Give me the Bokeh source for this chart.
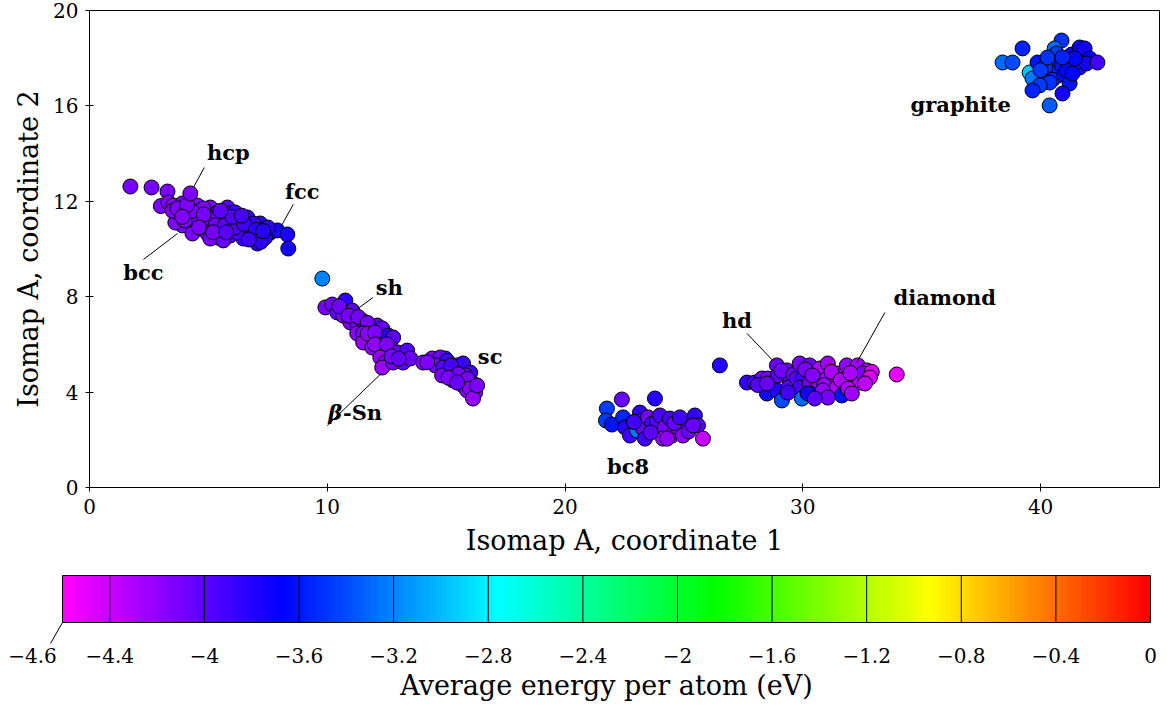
import colorsys

import numpy as np
from bokeh.core.properties import value
from bokeh.embed import file_html
from bokeh.layouts import column, row
from bokeh.models import ColumnDataSource, FixedTicker, LinearColorMapper, Range1d
from bokeh.plotting import figure
from bokeh.resources import INLINE

# ---- structures in Isomap A space: (coordinate 1, coordinate 2, energy in eV/atom) ----
# bcc / hcp / fcc
close_x = [1.72, 2.61, 3.28, 3.0, 3.32, 3.53, 3.91, 4.54, 5.08, 5.80, 5.90, 6.13, 6.64, 7.18,
           7.61, 7.90, 8.32, 8.36, 7.39, 7.06, 6.47, 5.92, 5.38, 4.96, 4.37, 3.91, 3.61,
           4.24, 4.66, 5.21, 5.63, 6.05, 6.64, 6.89, 4.79, 4.12, 5.38, 5.92, 4.96, 6.22,
           4.33, 5.08, 5.63, 4.54, 5.00, 5.50, 6.30, 4.00, 3.50, 6.80, 7.50, 7.20,
           3.70, 4.30, 4.80, 5.30, 5.70, 6.10, 6.50, 4.60, 5.20, 5.75, 6.00, 6.40, 7.00,
           4.10, 5.50, 3.90, 6.70, 7.30, 4.24]
close_y = [12.62, 12.58, 12.41, 11.80, 11.95, 11.82, 11.91, 11.82, 11.74, 11.74, 11.50, 11.53, 11.32, 11.07,
           10.69, 10.78, 10.61, 10.02, 10.48, 10.23, 10.44, 10.57, 10.48, 10.65, 10.78, 10.99, 11.11,
           11.19, 11.32, 11.19, 11.32, 11.07, 10.86, 11.07, 11.70, 11.49, 11.53, 11.11, 10.99, 10.69,
           10.65, 10.44, 10.36, 11.11, 11.30, 10.80, 11.20, 11.20, 11.60, 10.60, 10.90, 10.30,
           11.70, 11.60, 11.45, 11.00, 11.00, 10.90, 11.05, 10.90, 10.70, 10.70, 11.35, 11.40, 10.80,
           11.85, 11.60, 11.35, 10.40, 10.75, 12.33]
close_e = [-4.10, -4.10, -4.12, -4.13, -4.12, -4.14, -4.11, -4.12, -4.10, -3.98, -3.96, -3.90, -3.86, -3.84,
           -3.80, -3.76, -3.76, -3.74, -3.82, -3.84, -3.92, -4.00, -4.08, -4.12, -4.13, -4.14, -4.13,
           -4.11, -4.10, -4.08, -4.02, -3.96, -3.90, -3.88, -4.12, -4.14, -4.06, -3.98, -4.10, -3.95,
           -4.12, -4.10, -4.05, -4.12, -4.08, -4.04, -3.94, -4.13, -4.14, -3.88, -3.82, -3.84,
           -4.13, -4.12, -4.11, -4.07, -4.02, -3.95, -3.90, -4.12, -4.10, -4.00, -3.97, -3.92, -3.86,
           -4.13, -4.02, -4.14, -3.90, -3.82, -4.13]

# sh / beta-Sn / sc
tin_x = [9.79, 9.92, 10.21, 10.76, 10.42, 10.67, 11.05, 10.97, 11.26, 11.47, 11.72, 12.10, 12.31,
         10.50, 10.90, 11.30, 11.70,
         11.26, 11.51, 11.89, 12.23, 12.56, 12.77, 11.51, 11.89, 12.31, 12.65, 12.98, 13.36,
         11.70, 12.00, 12.00, 12.50,
         12.23, 12.44, 12.31, 12.77, 13.19, 13.49, 14.03, 14.41, 14.96, 14.75, 15.04, 14.54,
         12.70, 13.00, 14.20,
         14.87, 15.17, 15.46, 15.71, 16.01, 15.80, 14.83, 15.29, 15.71, 16.09, 15.88, 16.22,
         15.20, 15.50, 15.90, 15.10, 16.00,
         16.13, 15.46, 16.30]
tin_y = [8.76, 7.55, 7.67, 7.84, 7.34, 7.21, 7.42, 6.92, 6.88, 7.00, 6.71, 6.79, 6.67,
         7.60, 7.20, 7.15, 6.90,
         6.46, 6.46, 6.29, 6.16, 6.37, 6.29, 6.08, 5.87, 5.74, 5.87, 5.66, 5.74,
         6.45, 6.50, 6.00, 6.00,
         5.45, 5.24, 5.03, 5.24, 5.24, 5.41, 5.24, 5.41, 5.41, 5.45, 5.32, 5.12,
         5.50, 5.40, 5.25,
         5.03, 4.82, 5.12, 5.20, 4.82, 4.70, 4.70, 4.49, 4.28, 4.40, 4.07, 3.98,
         5.10, 4.75, 4.55, 4.60, 4.15,
         3.73, 4.40, 4.28]
tin_e = [-3.20, -4.10, -4.08, -3.85, -4.05, -4.10, -4.00, -4.12, -4.08, -4.15, -4.12, -4.02, -4.05,
         -4.07, -4.10, -4.08, -4.10,
         -4.18, -4.15, -4.20, -4.15, -3.82, -4.00, -4.22, -4.22, -4.18, -4.10, -4.05, -3.98,
         -4.18, -4.12, -4.20, -4.12,
         -4.22, -4.20, -4.24, -4.10, -4.02, -4.05, -4.18, -4.15, -3.30, -4.05, -3.90, -4.10,
         -4.10, -4.05, -4.15,
         -4.00, -4.08, -3.95, -3.88, -3.90, -4.05, -4.12, -4.15, -4.10, -4.12, -4.18, -4.15,
         -3.95, -4.08, -4.10, -4.12, -4.16,
         -4.22, -4.05, -4.12]

# bc8
bc8_x = [23.78, 22.39, 21.76, 21.72, 21.97, 22.44, 22.52, 22.73, 23.03, 23.15, 23.24, 23.28,
         23.49, 23.66, 23.36, 23.87, 23.99, 24.20, 24.41, 24.50, 24.12, 24.75, 24.96, 25.13,
         22.90, 24.60, 23.60, 25.20,
         25.46, 25.59, 25.80, 24.29, 24.83, 25.38]
bc8_y = [3.73, 3.69, 3.31, 2.81, 2.64, 2.94, 2.52, 2.18, 2.39, 3.14, 2.81, 2.47,
         2.94, 2.68, 2.05, 2.81, 3.02, 2.52, 2.89, 2.18, 2.05, 2.52, 2.18, 2.68,
         2.75, 2.70, 2.30, 2.35,
         3.02, 2.60, 2.05, 2.05, 2.94, 2.60]
bc8_e = [-3.80, -4.05, -3.45, -3.45, -3.60, -3.55, -3.80, -3.90, -3.25, -3.85, -4.00, -4.05,
         -4.10, -3.90, -3.90, -4.00, -3.95, -4.10, -3.95, -4.20, -4.25, -4.15, -4.20, -3.95,
         -3.90, -4.05, -4.00, -4.05,
         -3.85, -4.00, -4.38, -4.20, -3.90, -4.05]

# hd / diamond
dia_x = [26.51, 27.65, 27.98, 28.28, 28.91, 28.53, 28.49, 28.91, 29.12, 29.33, 28.95, 29.45,
         28.10, 29.10, 29.60, 29.40,
         29.87, 30.29, 29.75, 30.00, 29.87, 30.29, 29.96, 30.50, 30.71, 31.05, 30.59, 31.01,
         30.10, 30.40, 30.20, 30.90,
         31.43, 31.85, 32.31, 32.69, 31.43, 31.68, 32.06, 32.39, 32.52, 30.84, 31.64, 31.05,
         31.20, 31.60, 32.00, 31.90, 32.90,
         32.06, 32.82, 32.61, 33.95, 28.49, 29.37, 30.50]
dia_y = [5.12, 4.40, 4.40, 4.57, 5.12, 4.57, 3.94, 4.07, 3.65, 4.91, 4.70, 4.40,
         4.30, 4.90, 4.75, 4.20,
         5.20, 5.12, 4.57, 4.61, 4.19, 4.36, 3.73, 3.98, 4.99, 5.20, 4.49, 4.57,
         4.95, 4.70, 3.95, 4.30,
         4.78, 5.12, 5.12, 4.91, 4.19, 4.49, 4.36, 4.40, 4.78, 4.07, 3.86, 3.77,
         4.85, 4.50, 4.80, 4.15, 4.85,
         3.94, 4.61, 4.36, 4.74, 4.36, 3.98, 3.73]
dia_e = [-3.80, -3.85, -3.95, -4.10, -4.05, -4.10, -3.75, -3.80, -3.40, -4.10, -4.00, -4.05,
         -4.00, -4.08, -4.05, -3.98,
         -4.10, -4.05, -4.00, -3.90, -3.95, -4.10, -3.30, -3.80, -4.30, -4.25, -4.20, -4.25,
         -4.10, -4.15, -3.75, -4.22,
         -4.30, -4.20, -4.25, -4.30, -4.30, -4.25, -4.35, -4.30, -4.15, -4.20, -3.60, -4.10,
         -4.28, -4.30, -4.28, -4.30, -4.45,
         -4.25, -4.45, -4.35, -4.50, -4.05, -3.90, -4.00]

# graphite
gra_x = [40.88, 39.24, 38.40, 38.82, 39.54, 39.66, 39.87, 40.46, 40.17, 40.59, 40.67, 40.71,
         40.60, 40.90, 41.30, 40.20, 40.50, 41.00, 41.70, 40.00,
         41.13, 41.09, 40.38, 39.96, 39.66, 41.22, 40.92, 40.38, 41.64, 41.85, 41.64, 42.06,
         41.93, 42.39, 41.43, 40.92, 40.29, 41.34]
gra_y = [18.74, 18.41, 17.82, 17.82, 17.40, 17.15, 17.82, 17.78, 17.36, 18.41, 18.20, 17.27,
         17.60, 17.70, 18.15, 17.65, 17.10, 17.30, 17.95, 17.50,
         17.90, 17.48, 16.98, 16.86, 16.65, 16.94, 16.52, 16.02, 18.45, 18.41, 17.61, 17.99,
         17.78, 17.82, 17.99, 18.03, 18.03, 17.36]
gra_e = [-3.50, -3.55, -3.30, -3.40, -2.95, -3.25, -3.60, -3.55, -3.50, -3.30, -3.45, -3.60,
         -3.55, -3.60, -3.70, -3.50, -3.55, -3.62, -3.72, -3.45,
         -3.70, -3.65, -3.50, -3.45, -3.55, -3.60, -3.75, -3.35, -3.70, -3.75, -3.80, -3.70,
         -3.75, -3.90, -3.65, -3.55, -3.50, -3.65]

# structure names with their leader lines
label_text = ["hcp", "bcc", "fcc", "sh", "sc", "bc8", "hd", "diamond", "graphite"]
label_x = [5.84, 2.27, 8.95, 12.61, 16.85, 22.65, 27.23, 35.97, 36.64]
label_y = [14.05, 9.01, 12.41, 8.39, 5.49, 0.88, 7.00, 7.97, 16.06]
tin_label_x = [10.04, 10.66]
tin_label_y = [3.14, 3.14]
lead_x0 = [4.83, 2.27, 8.57, 11.93, 10.00, 27.65, 33.45]
lead_y0 = [13.42, 9.56, 11.87, 7.97, 2.60, 6.46, 7.34]
lead_x1 = [4.37, 3.70, 8.03, 11.30, 12.31, 28.74, 32.27]
lead_y1 = [12.58, 10.65, 10.90, 7.51, 4.82, 5.32, 5.24]

# colour bar
e_low, e_high = -4.6, 0.0
cbar_ticks = [-4.6, -4.4, -4.0, -3.6, -3.2, -2.8, -2.4, -2.0, -1.6, -1.2, -0.8, -0.4, 0.0]
cbar_labels = ["−4.6", "−4.4", "−4", "−3.6", "−3.2", "−2.8", "−2.4", "−2", "−1.6",
               "−1.2", "−0.8", "−0.4", "0"]
x_ticks = [0, 10, 20, 30, 40]
y_ticks = [0, 4, 8, 12, 16, 20]

SERIF = "DejaVu Serif"

# hue runs from magenta (low energy) down to red (zero)
palette = []
for i in range(256):
    h = (300.0 * (1 - i / 255.0)) / 360.0
    r, g, b = colorsys.hsv_to_rgb(h, 1.0, 1.0)
    palette.append("#%02x%02x%02x" % (int(round(r * 255)), int(round(g * 255)), int(round(b * 255))))
mapper = LinearColorMapper(palette=palette, low=e_low, high=e_high)

# ---------------- scatter panel ----------------
p = figure(frame_width=1070, frame_height=477, x_range=(0, 45), y_range=(0, 20),
           output_backend="svg", toolbar_location=None,
           min_border_left=89, min_border_right=7, min_border_top=10, min_border_bottom=73)
p.grid.visible = False
p.outline_line_color = "black"
p.outline_line_width = 1
p.background_fill_color = "white"

for ax in (p.xaxis[0], p.yaxis[0]):
    ax.major_tick_in = 4
    ax.major_tick_out = 4
    ax.minor_tick_line_color = None
    ax.axis_line_color = "black"
    ax.major_tick_line_color = "black"
    ax.major_label_text_font = SERIF
    ax.major_label_text_font_size = "20px"
    ax.major_label_text_color = "black"
    ax.axis_label_text_font = SERIF
    ax.axis_label_text_font_size = "27px"
    ax.axis_label_text_font_style = "normal"
    ax.axis_label_text_color = "black"
p.xaxis.ticker = FixedTicker(ticks=x_ticks)
p.yaxis.ticker = FixedTicker(ticks=y_ticks)
p.xaxis.axis_label = "Isomap A, coordinate 1"
p.yaxis.axis_label = "Isomap A, coordinate 2"
p.xaxis.major_label_standoff = 7
p.yaxis.major_label_standoff = 7
p.xaxis.axis_label_standoff = 8
p.yaxis.axis_label_standoff = 6

for xs, ys, es in [(close_x, close_y, close_e), (tin_x, tin_y, tin_e), (bc8_x, bc8_y, bc8_e),
                   (dia_x, dia_y, dia_e), (gra_x, gra_y, gra_e)]:
    src = ColumnDataSource(dict(x=xs, y=ys, e=es))
    p.scatter("x", "y", source=src, size=15, fill_color={"field": "e", "transform": mapper},
              line_color="black", line_width=1, fill_alpha=1)

p.segment(x0=lead_x0, y0=lead_y0, x1=lead_x1, y1=lead_y1, line_color="black", line_width=1)
p.text(x=label_x, y=label_y, text=label_text, text_align="center", text_baseline="middle",
       text_font=value(SERIF), text_font_style="bold", text_font_size="21px", text_color="black")
# beta-Sn: italic bold beta followed by "-Sn"
p.text(x=tin_label_x[:1], y=tin_label_y[:1], text=["β"], text_align="left",
       text_baseline="middle", text_font=value(SERIF), text_font_style="bold italic",
       text_font_size="21px", text_color="black")
p.text(x=tin_label_x[1:], y=tin_label_y[1:], text=["-Sn"], text_align="left",
       text_baseline="middle", text_font=value(SERIF), text_font_style="bold",
       text_font_size="21px", text_color="black")

# ---------------- colour bar panel ----------------
px_per_unit = 1088.0 / (e_high - e_low)
cb = figure(width=1166, height=148, output_backend="svg", toolbar_location=None,
            x_range=Range1d(e_low - 62 / px_per_unit, e_high + 16 / px_per_unit),
            y_range=Range1d(0, 148), x_axis_type=None, y_axis_type=None,
            min_border=0, min_border_left=0, min_border_right=0,
            min_border_top=0, min_border_bottom=0, outline_line_color=None)
cb.grid.visible = False

bar_bottom, bar_top = 86, 133
grad = np.linspace(e_low, e_high, 1100).reshape(1, -1)
cb.image(image=[grad], x=e_low, y=bar_bottom, dw=e_high - e_low, dh=bar_top - bar_bottom,
         color_mapper=mapper)
inner = cbar_ticks[1:-1]
cb.segment(x0=inner, y0=[bar_bottom] * len(inner), x1=inner, y1=[bar_top] * len(inner),
           line_color="black", line_width=1)
cb.quad(left=[e_low], right=[e_high], bottom=[bar_bottom], top=[bar_top],
        fill_color=None, line_color="black", line_width=1)

lab_x = list(cbar_ticks)
lab_x[0] = e_low - 30 / px_per_unit
cb.text(x=lab_x, y=[53] * len(lab_x), text=cbar_labels, text_align="center",
        text_baseline="middle", text_font=value(SERIF), text_font_size="20px", text_color="black")
cb.segment(x0=[e_low], y0=[bar_bottom], x1=[e_low - 12 / px_per_unit], y1=[65],
           line_color="black", line_width=1)
cb.text(x=[(e_low + e_high) / 2], y=[23], text=["Average energy per atom (eV)"],
        text_align="center", text_baseline="middle", text_font=value(SERIF),
        text_font_size="27px", text_color="black")

layout = column(row(p), row(cb), spacing=0)
open("out.html", "w").write(file_html(layout, INLINE))
